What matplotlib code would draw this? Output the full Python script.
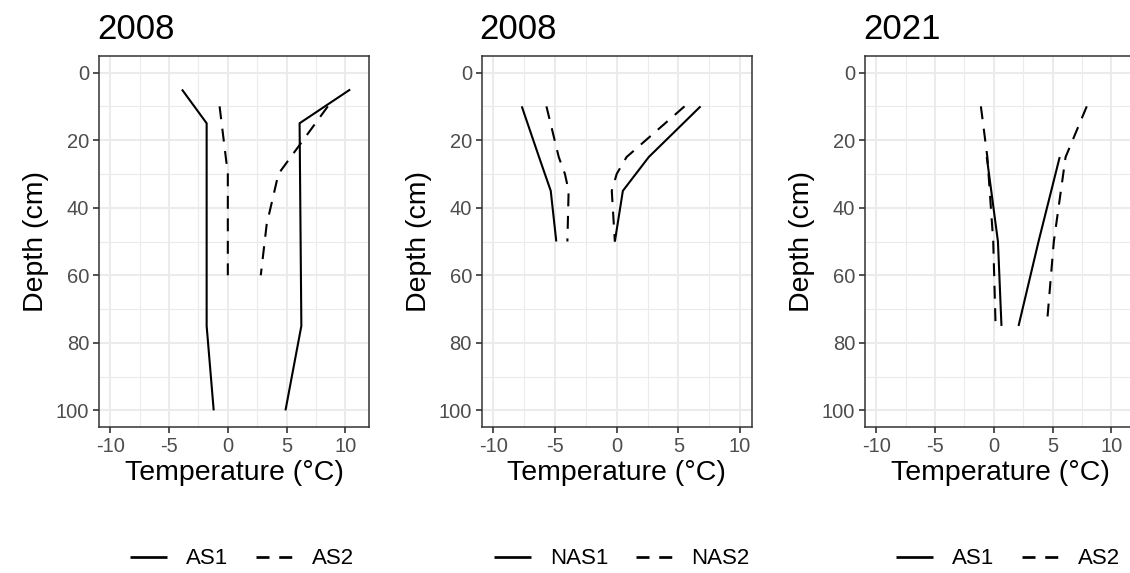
import numpy as np
import matplotlib
matplotlib.use("Agg")
import matplotlib.pyplot as plt
from matplotlib.lines import Line2D
from matplotlib.ticker import MultipleLocator, FuncFormatter

plt.rcParams['font.family'] = ['Liberation Sans', 'DejaVu Sans']

# 2008, AS sites: winter minimum (cold) and summer maximum (warm) profiles
p1_titles = ("AS1", "AS2")
p1_as1_depth = [5, 15, 75, 100]
p1_as1_cold = [-3.9, -1.8, -1.8, -1.2]
p1_as1_warm = [10.4, 6.1, 6.25, 4.9]
p1_as2_depth = [10, 30, 45, 60]
p1_as2_cold = [-0.7, 0.0, 0.0, 0.0]
p1_as2_warm = [8.5, 4.3, 3.3, 2.8]

# 2008, NAS sites
p2_titles = ("NAS1", "NAS2")
p2_nas1_depth = [10, 25, 35, 50]
p2_nas1_cold = [-7.7, -6.3, -5.35, -4.9]
p2_nas1_warm = [6.8, 2.6, 0.5, -0.15]
p2_nas2_depth = [10, 25, 30, 35, 50]
p2_nas2_cold = [-5.7, -4.7, -4.2, -3.9, -4.0]
p2_nas2_warm = [5.5, 0.8, 0.0, -0.4, -0.15]

# 2021, AS sites
p3_titles = ("AS1", "AS2")
p3_as1_depth = [25, 50, 75]
p3_as1_cold = [-0.6, 0.35, 0.65]
p3_as1_warm = [5.6, 3.8, 2.1]
p3_as2_depth = [10, 25, 50, 75]
p3_as2_cold = [-1.1, -0.55, -0.05, 0.15]
p3_as2_warm = [7.9, 6.1, 5.1, 4.5]

panels = [
    ("2008", p1_titles, (p1_as1_depth, p1_as1_cold, p1_as1_warm),
     (p1_as2_depth, p1_as2_cold, p1_as2_warm), (-10.95, 12.0)),
    ("2008", p2_titles, (p2_nas1_depth, p2_nas1_cold, p2_nas1_warm),
     (p2_nas2_depth, p2_nas2_cold, p2_nas2_warm), (-10.95, 10.95)),
    ("2021", p3_titles, (p3_as1_depth, p3_as1_cold, p3_as1_warm),
     (p3_as2_depth, p3_as2_cold, p3_as2_warm), (-10.95, 12.0)),
]

W, H = 1130, 573
fig = plt.figure(figsize=(W / 100, H / 100), dpi=100)

lefts = [99, 481.7, 865]
legend_cx = [242, 622, 1008]
ax_w, ax_top, ax_bot = 270, 55.7, 427.3

lw = 1.5
dash = (0, (6.2, 4.6))
tick_col = '#4D4D4D'

for i, (title, names, s1, s2, xl) in enumerate(panels):
    ax = fig.add_axes([lefts[i] / W, 1 - ax_bot / H, ax_w / W, (ax_bot - ax_top) / H])
    ax.set_facecolor('white')
    ax.set_xlim(*xl)
    ax.set_ylim(105, -5)
    ax.xaxis.set_major_locator(MultipleLocator(5))
    ax.xaxis.set_minor_locator(MultipleLocator(2.5))
    ax.yaxis.set_major_locator(MultipleLocator(20))
    ax.yaxis.set_minor_locator(MultipleLocator(10))
    ax.grid(which='major', color='#EBEBEB', lw=1.5)
    ax.grid(which='minor', color='#EBEBEB', lw=0.8)
    ax.set_axisbelow(True)
    ax.tick_params(which='minor', length=0)
    ax.tick_params(which='major', length=4, width=1.2, color='#333333',
                   labelcolor=tick_col, labelsize=14.5, pad=3)
    for sp in ax.spines.values():
        sp.set_color('#333333')
        sp.set_linewidth(1.1)
    # plain hyphen for negative tick labels
    ax.xaxis.set_major_formatter(FuncFormatter(
        lambda v, p: ('-' if v < 0 else '') + f"{abs(v):g}"))

    d, c, w = s1
    ax.plot(c, d, color='black', lw=lw, solid_capstyle='butt')
    ax.plot(w, d, color='black', lw=lw, solid_capstyle='butt')
    d, c, w = s2
    ax.plot(c, d, color='black', lw=lw, ls=dash, dash_capstyle='butt')
    ax.plot(w, d, color='black', lw=lw, ls=dash, dash_capstyle='butt')

    ax.set_title(title, loc='left', fontsize=25, pad=12, x=-0.008)
    ax.set_xlabel('Temperature (°C)', fontsize=20.5, labelpad=3)
    ax.set_ylabel('Depth (cm)', fontsize=20.5, labelpad=5)

    handles = [Line2D([], [], color='black', lw=lw * 1.3, solid_capstyle='butt'),
               Line2D([], [], color='black', lw=lw * 1.3,
                      ls=(0, (4.8, 3.6)), dash_capstyle='butt')]
    fig.legend(handles, list(names), loc='center', ncol=2,
               bbox_to_anchor=(legend_cx[i] / W, 1 - 559 / H),
               frameon=False, fontsize=16, handlelength=1.65,
               handletextpad=0.85, columnspacing=1.25)

fig.savefig('out.png', dpi=100)
